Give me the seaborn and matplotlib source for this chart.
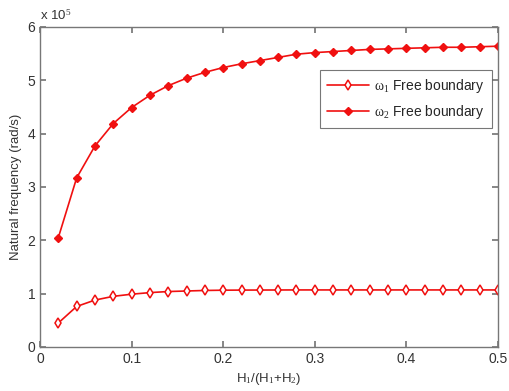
import matplotlib
matplotlib.use("Agg")
import matplotlib.pyplot as plt
import seaborn as sns
import pandas as pd
import numpy as np

ratio = [0.02, 0.04, 0.06, 0.08, 0.10, 0.12, 0.14, 0.16, 0.18, 0.20, 0.22, 0.24, 0.26,
         0.28, 0.30, 0.32, 0.34, 0.36, 0.38, 0.40, 0.42, 0.44, 0.46, 0.48, 0.50]
omega1 = [0.45, 0.76, 0.88, 0.95, 0.99, 1.02, 1.04, 1.05, 1.06, 1.065, 1.067, 1.068, 1.069,
          1.07, 1.07, 1.07, 1.07, 1.07, 1.07, 1.07, 1.07, 1.07, 1.07, 1.07, 1.07]
omega2 = [2.05, 3.17, 3.77, 4.19, 4.49, 4.72, 4.90, 5.04, 5.15, 5.24, 5.31, 5.37, 5.43,
          5.49, 5.52, 5.54, 5.56, 5.58, 5.59, 5.60, 5.61, 5.62, 5.62, 5.63, 5.64]
labels = [r"$\mathrm{\omega}_1$ Free boundary", r"$\mathrm{\omega}_2$ Free boundary"]

sns.set_theme(style="ticks")
plt.rcParams['font.family'] = ['Liberation Sans', 'DejaVu Sans']
plt.rcParams['mathtext.fontset'] = 'custom'
plt.rcParams['mathtext.rm'] = 'Liberation Serif'
plt.rcParams['mathtext.it'] = 'Liberation Serif'

df1 = pd.DataFrame({"x": ratio, "y": omega1})
df2 = pd.DataFrame({"x": ratio, "y": omega2})

fig = plt.figure(figsize=(5.09, 3.91), dpi=100)
ax = fig.add_axes([40/509, 1-347/391, 458/509, 320/391])
red = "#f01010"
sns.lineplot(data=df1, x="x", y="y", ax=ax, color=red, lw=1.2, marker="d",
             markersize=5, markerfacecolor="white", markeredgecolor=red,
             markeredgewidth=1.1, label=labels[0])
sns.lineplot(data=df2, x="x", y="y", ax=ax, color=red, lw=1.2, marker="D",
             markersize=4.5, markerfacecolor=red, markeredgecolor=red,
             markeredgewidth=1.0, label=labels[1])

ax.set_xlim(0, 0.5)
ax.set_ylim(0, 6)
ax.set_xticks([0, 0.1, 0.2, 0.3, 0.4, 0.5])
ax.set_xticklabels(["0", "0.1", "0.2", "0.3", "0.4", "0.5"])
ax.set_yticks([0, 1, 2, 3, 4, 5, 6])
grey = "#777777"
for s in ax.spines.values():
    s.set_visible(True)
    s.set_color(grey)
    s.set_linewidth(1.0)
ax.tick_params(direction="in", length=4, color=grey, labelcolor="#333333",
               labelsize=10, top=True, right=True)
ax.set_xlabel(r"H$_1$/(H$_1$+H$_2$)", fontsize=9.5, color="#333333")
ax.set_ylabel("Natural frequency (rad/s)", fontsize=9.5, color="#333333")
ax.text(0.0, 1.015, r"x 10$^5$", transform=ax.transAxes, fontsize=9.5,
        color="#333333", ha="left", va="bottom")
leg = ax.legend(loc="upper left", bbox_to_anchor=(280/458, 1-43/320), borderaxespad=0,
                frameon=True, fancybox=False, edgecolor="#555555", fontsize=10,
                handlelength=3.0, borderpad=0.5, labelspacing=0.6, handletextpad=0.4)
leg.get_frame().set_linewidth(0.8)
fig.savefig("out.png", dpi=100, facecolor="white")
